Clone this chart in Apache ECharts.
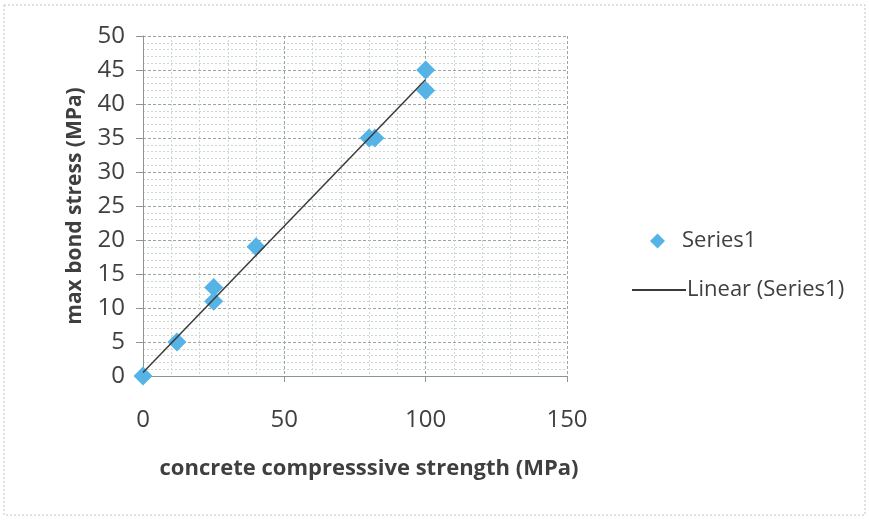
<!DOCTYPE html>
<html>
<head>
<meta charset="utf-8">
<script src="https://cdn.jsdelivr.net/npm/echarts@6/dist/echarts.min.js"></script>
<style>html,body{margin:0;padding:0;background:#fff}#c{width:869px;height:520px}</style>
</head>
<body>
<div id="c"></div>
<script>
var strengthX = [0, 12, 25, 25, 40, 80, 82, 100, 100];
var bondY = [0, 5, 13, 11, 19, 35, 35, 45, 42];
var trendX = [0, 100];
var trendY = [0.5, 43.6];
var xTicks = [0, 50, 100, 150];
var yTicks = [0, 5, 10, 15, 20, 25, 30, 35, 40, 45, 50];

var pts = strengthX.map(function (x, i) { return [x, bondY[i]]; });
var trend = trendX.map(function (x, i) { return [x, trendY[i]]; });
var font = '"Open Sans", Lato, sans-serif';
var chart = echarts.init(document.getElementById('c'), null, {renderer: 'canvas'});
chart.setOption({
  animation: false,
  backgroundColor: '#fff',
  textStyle: {fontFamily: font},
  graphic: [{
    type: 'rect', shape: {x: 4, y: 5, width: 861, height: 510},
    style: {fill: 'none', stroke: '#bfc6c2', lineWidth: 1, lineDash: [2, 2]}
  }],
  grid: {left: 143, right: 302, top: 36, bottom: 144, show: false},
  xAxis: {
    type: 'value', min: xTicks[0], max: xTicks[xTicks.length - 1], interval: 50,
    name: 'concrete compresssive strength (MPa)', nameLocation: 'middle', nameGap: 82,
    nameTextStyle: {fontSize: 22, fontWeight: 'bold', color: '#3f3f3f', fontFamily: font, padding: [0, 0, 0, 28]},
    axisLine: {show: true, lineStyle: {color: '#8c9690', width: 1}},
    axisTick: {show: true, length: 6, lineStyle: {color: '#8c9690'}},
    axisLabel: {fontSize: 24, color: '#404040', margin: 32, fontFamily: font},
    splitLine: {show: true, lineStyle: {color: '#9aa69e', type: [3, 2], width: 1}},
    minorTick: {show: true, splitNumber: 5, length: 0},
    minorSplitLine: {show: true, lineStyle: {color: '#cdd7d0', type: [2, 2], width: 1}}
  },
  yAxis: {
    type: 'value', min: yTicks[0], max: yTicks[yTicks.length - 1], interval: 5,
    name: 'max bond stress (MPa)', nameLocation: 'middle', nameGap: 57,
    nameTextStyle: {fontSize: 21, fontWeight: 'bold', color: '#3f3f3f', fontFamily: font},
    axisLine: {show: true, lineStyle: {color: '#8c9690', width: 1}},
    axisTick: {show: true, length: 7, lineStyle: {color: '#8c9690'}},
    axisLabel: {fontSize: 24, color: '#404040', margin: 18, fontFamily: font},
    splitLine: {show: true, lineStyle: {color: '#9aa69e', type: [3, 2], width: 1}},
    minorTick: {show: true, splitNumber: 5, length: 0},
    minorSplitLine: {show: true, lineStyle: {color: '#cdd7d0', type: [2, 2], width: 1}}
  },
  legend: [{
    data: [{name: 'Series1', icon: 'diamond'}],
    left: 645, top: 225, itemWidth: 15, itemHeight: 15,
    textStyle: {fontSize: 22, color: '#404040', fontFamily: font, padding: [0, 0, 0, 12]}
  }, {
    data: [{name: 'Linear (Series1)', icon: 'rect'}],
    left: 627, top: 274, itemWidth: 54, itemHeight: 2,
    textStyle: {fontSize: 22, color: '#404040', fontFamily: font, padding: [0, 0, 0, -4]}
  }],
  series: [{
    name: 'Series1', type: 'scatter', data: pts, symbol: 'diamond', symbolSize: 19,
    itemStyle: {color: '#56b3e6', opacity: 1}, z: 3
  }, {
    name: 'Linear (Series1)', type: 'line', data: trend, symbol: 'none',
    lineStyle: {color: '#3a3a3a', width: 1.5}, itemStyle: {color: '#3a3a3a'}, z: 4
  }]
});
</script>
</body>
</html>
